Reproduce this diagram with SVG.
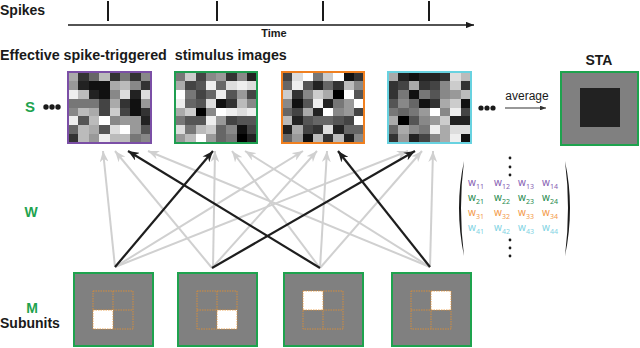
<svg xmlns="http://www.w3.org/2000/svg" width="640" height="348" viewBox="0 0 640 348">
<style>
.lbl{font-family:"Liberation Sans",Arial,sans-serif;font-weight:bold;fill:#1a1a1a}
.grn{fill:#1ea34e}
.mx{font-family:"Noto Sans","Liberation Sans",sans-serif;font-size:10px}
.mx tspan.s{font-size:7px}
.g{stroke:#d0d0d0;stroke-width:2;fill:none;marker-end:url(#ag)}
.k{stroke:#1e1e1e;stroke-width:2.2;fill:none;marker-end:url(#ak)}
.sub{fill:#808080;stroke:#1ea34e;stroke-width:2}
.grid{fill:none;stroke:#e8912c;stroke-width:0.8;stroke-dasharray:1.5 1}
.px{shape-rendering:crispEdges}
</style>
<defs>
<marker id="ag" viewBox="0 0 10 8" markerWidth="11" markerHeight="9" refX="10" refY="4" orient="auto" markerUnits="userSpaceOnUse"><path d="M0,0 L10,4 L0,8 L3,4 z" fill="#d0d0d0"/></marker>
<marker id="ak" viewBox="0 0 10 8" markerWidth="11" markerHeight="9" refX="10" refY="4" orient="auto" markerUnits="userSpaceOnUse"><path d="M0,0 L10,4 L0,8 L3,4 z" fill="#1e1e1e"/></marker>
<marker id="at" viewBox="0 0 10 8" markerWidth="8" markerHeight="6.4" refX="10" refY="4" orient="auto" markerUnits="userSpaceOnUse"><path d="M0,0 L10,4 L0,8 z" fill="#1a1a1a"/></marker>
<marker id="aa" viewBox="0 0 10 8" markerWidth="6" markerHeight="4.8" refX="10" refY="4" orient="auto" markerUnits="userSpaceOnUse"><path d="M0,0 L10,4 L0,8 z" fill="#333"/></marker>
</defs>
<rect width="640" height="348" fill="#fff"/>

<g id="timeline">
<text class="lbl" x="0" y="15" font-size="14">Spikes</text>
<g stroke="#1a1a1a" stroke-width="2">
<line x1="108" y1="1" x2="108" y2="21"/><line x1="217" y1="1" x2="217" y2="21"/><line x1="323" y1="1" x2="323" y2="21"/><line x1="429" y1="1" x2="429" y2="21"/>
</g>
<line x1="68" y1="25" x2="474" y2="25" stroke="#1a1a1a" stroke-width="1.3" marker-end="url(#at)"/>
<text class="lbl" x="274" y="37" font-size="11" text-anchor="middle">Time</text>
</g>

<text class="lbl" x="0" y="60" font-size="14.3" xml:space="preserve">Effective spike-triggered  stimulus images</text>

<g id="labels">
<text class="lbl grn" x="30" y="112" font-size="15" text-anchor="middle">S</text>
<g fill="#1a1a1a"><circle cx="46" cy="107" r="2.7"/><circle cx="52" cy="107" r="2.7"/><circle cx="58" cy="107" r="2.7"/></g>
<text class="lbl grn" x="31" y="217" font-size="14" text-anchor="middle">W</text>
<text class="lbl grn" x="32" y="313" font-size="14" text-anchor="middle">M</text>
<text class="lbl" x="0" y="328" font-size="14">Subunits</text>
</g>

<g id="connectors">
<line class="g" x1="115" y1="267" x2="103" y2="151"/>
<line class="g" x1="212" y1="268" x2="115" y2="151"/>
<line class="g" x1="430" y1="267" x2="148" y2="151"/>
<line class="g" x1="213" y1="268" x2="215" y2="151"/>
<line class="g" x1="320" y1="268" x2="232" y2="151"/>
<line class="g" x1="430" y1="267" x2="245" y2="151"/>
<line class="g" x1="115" y1="267" x2="303" y2="151"/>
<line class="g" x1="212" y1="268" x2="317" y2="151"/>
<line class="g" x1="320" y1="268" x2="327" y2="151"/>
<line class="g" x1="115" y1="267" x2="408" y2="151"/>
<line class="g" x1="320" y1="268" x2="422" y2="151"/>
<line class="g" x1="430" y1="267" x2="433" y2="151"/>
<line class="k" x1="320" y1="268" x2="128" y2="151"/>
<line class="k" x1="115" y1="267" x2="213" y2="151"/>
<line class="k" x1="430" y1="267" x2="338" y2="151"/>
<line class="k" x1="212" y1="268" x2="415" y2="151"/>
</g>

<g id="stim1">
<g class="px" transform="translate(68,72) scale(10.375,8.875)">
<rect x="0" y="0" width="1" height="1" fill="#aaa"/><rect x="1" y="0" width="1" height="1" fill="#333"/><rect x="2" y="0" width="1" height="1" fill="#666"/><rect x="3" y="0" width="1" height="1" fill="#bbb"/><rect x="4" y="0" width="1" height="1" fill="#333"/><rect x="5" y="0" width="1" height="1" fill="#777"/><rect x="6" y="0" width="1" height="1" fill="#333"/><rect x="7" y="0" width="1" height="1" fill="#888"/>
<rect x="0" y="1" width="1" height="1" fill="#999"/><rect x="1" y="1" width="1" height="1" fill="#222"/><rect x="2" y="1" width="1" height="1" fill="#111"/><rect x="3" y="1" width="1" height="1" fill="#111"/><rect x="4" y="1" width="1" height="1" fill="#aaa"/><rect x="5" y="1" width="1" height="1" fill="#bbb"/><rect x="6" y="1" width="1" height="1" fill="#888"/><rect x="7" y="1" width="1" height="1" fill="#333"/>
<rect x="0" y="2" width="1" height="1" fill="#eee"/><rect x="1" y="2" width="1" height="1" fill="#bbb"/><rect x="2" y="2" width="1" height="1" fill="#222"/><rect x="3" y="2" width="1" height="1" fill="#111"/><rect x="4" y="2" width="1" height="1" fill="#888"/><rect x="5" y="2" width="1" height="1" fill="#ddd"/><rect x="6" y="2" width="1" height="1" fill="#222"/><rect x="7" y="2" width="1" height="1" fill="#ddd"/>
<rect x="0" y="3" width="1" height="1" fill="#777"/><rect x="1" y="3" width="1" height="1" fill="#777"/><rect x="2" y="3" width="1" height="1" fill="#777"/><rect x="3" y="3" width="1" height="1" fill="#444"/><rect x="4" y="3" width="1" height="1" fill="#aaa"/><rect x="5" y="3" width="1" height="1" fill="#333"/><rect x="6" y="3" width="1" height="1" fill="#111"/><rect x="7" y="3" width="1" height="1" fill="#999"/>
<rect x="0" y="4" width="1" height="1" fill="#888"/><rect x="1" y="4" width="1" height="1" fill="#bbb"/><rect x="2" y="4" width="1" height="1" fill="#aaa"/><rect x="3" y="4" width="1" height="1" fill="#444"/><rect x="4" y="4" width="1" height="1" fill="#ccc"/><rect x="5" y="4" width="1" height="1" fill="#444"/><rect x="6" y="4" width="1" height="1" fill="#111"/><rect x="7" y="4" width="1" height="1" fill="#333"/>
<rect x="0" y="5" width="1" height="1" fill="#eee"/><rect x="1" y="5" width="1" height="1" fill="#555"/><rect x="2" y="5" width="1" height="1" fill="#bbb"/><rect x="3" y="5" width="1" height="1" fill="#fff"/><rect x="4" y="5" width="1" height="1" fill="#888"/><rect x="5" y="5" width="1" height="1" fill="#999"/><rect x="6" y="5" width="1" height="1" fill="#999"/><rect x="7" y="5" width="1" height="1" fill="#222"/>
<rect x="0" y="6" width="1" height="1" fill="#666"/><rect x="1" y="6" width="1" height="1" fill="#bbb"/><rect x="2" y="6" width="1" height="1" fill="#aaa"/><rect x="3" y="6" width="1" height="1" fill="#555"/><rect x="4" y="6" width="1" height="1" fill="#ddd"/><rect x="5" y="6" width="1" height="1" fill="#fff"/><rect x="6" y="6" width="1" height="1" fill="#999"/><rect x="7" y="6" width="1" height="1" fill="#555"/>
<rect x="0" y="7" width="1" height="1" fill="#333"/><rect x="1" y="7" width="1" height="1" fill="#bbb"/><rect x="2" y="7" width="1" height="1" fill="#999"/><rect x="3" y="7" width="1" height="1" fill="#eee"/><rect x="4" y="7" width="1" height="1" fill="#bbb"/><rect x="5" y="7" width="1" height="1" fill="#bbb"/><rect x="6" y="7" width="1" height="1" fill="#777"/><rect x="7" y="7" width="1" height="1" fill="#888"/>
</g>
<rect x="68" y="72" width="83" height="71" fill="none" stroke="#7b4fa6" stroke-width="2"/>
</g>

<g id="stim2">
<g class="px" transform="translate(175,72) scale(10.25,8.875)">
<rect x="0" y="0" width="1" height="1" fill="#777"/><rect x="1" y="0" width="1" height="1" fill="#ccc"/><rect x="2" y="0" width="1" height="1" fill="#444"/><rect x="3" y="0" width="1" height="1" fill="#888"/><rect x="4" y="0" width="1" height="1" fill="#999"/><rect x="5" y="0" width="1" height="1" fill="#333"/><rect x="6" y="0" width="1" height="1" fill="#888"/><rect x="7" y="0" width="1" height="1" fill="#222"/>
<rect x="0" y="1" width="1" height="1" fill="#aaa"/><rect x="1" y="1" width="1" height="1" fill="#444"/><rect x="2" y="1" width="1" height="1" fill="#555"/><rect x="3" y="1" width="1" height="1" fill="#eee"/><rect x="4" y="1" width="1" height="1" fill="#666"/><rect x="5" y="1" width="1" height="1" fill="#ddd"/><rect x="6" y="1" width="1" height="1" fill="#eee"/><rect x="7" y="1" width="1" height="1" fill="#ddd"/>
<rect x="0" y="2" width="1" height="1" fill="#fff"/><rect x="1" y="2" width="1" height="1" fill="#777"/><rect x="2" y="2" width="1" height="1" fill="#444"/><rect x="3" y="2" width="1" height="1" fill="#666"/><rect x="4" y="2" width="1" height="1" fill="#eee"/><rect x="5" y="2" width="1" height="1" fill="#555"/><rect x="6" y="2" width="1" height="1" fill="#999"/><rect x="7" y="2" width="1" height="1" fill="#444"/>
<rect x="0" y="3" width="1" height="1" fill="#eee"/><rect x="1" y="3" width="1" height="1" fill="#666"/><rect x="2" y="3" width="1" height="1" fill="#555"/><rect x="3" y="3" width="1" height="1" fill="#ddd"/><rect x="4" y="3" width="1" height="1" fill="#111"/><rect x="5" y="3" width="1" height="1" fill="#333"/><rect x="6" y="3" width="1" height="1" fill="#bbb"/><rect x="7" y="3" width="1" height="1" fill="#888"/>
<rect x="0" y="4" width="1" height="1" fill="#aaa"/><rect x="1" y="4" width="1" height="1" fill="#ccc"/><rect x="2" y="4" width="1" height="1" fill="#000"/><rect x="3" y="4" width="1" height="1" fill="#888"/><rect x="4" y="4" width="1" height="1" fill="#fff"/><rect x="5" y="4" width="1" height="1" fill="#eee"/><rect x="6" y="4" width="1" height="1" fill="#ddd"/><rect x="7" y="4" width="1" height="1" fill="#eee"/>
<rect x="0" y="5" width="1" height="1" fill="#777"/><rect x="1" y="5" width="1" height="1" fill="#555"/><rect x="2" y="5" width="1" height="1" fill="#555"/><rect x="3" y="5" width="1" height="1" fill="#eee"/><rect x="4" y="5" width="1" height="1" fill="#999"/><rect x="5" y="5" width="1" height="1" fill="#444"/><rect x="6" y="5" width="1" height="1" fill="#555"/><rect x="7" y="5" width="1" height="1" fill="#555"/>
<rect x="0" y="6" width="1" height="1" fill="#ddd"/><rect x="1" y="6" width="1" height="1" fill="#777"/><rect x="2" y="6" width="1" height="1" fill="#bbb"/><rect x="3" y="6" width="1" height="1" fill="#ccc"/><rect x="4" y="6" width="1" height="1" fill="#666"/><rect x="5" y="6" width="1" height="1" fill="#888"/><rect x="6" y="6" width="1" height="1" fill="#111"/><rect x="7" y="6" width="1" height="1" fill="#444"/>
<rect x="0" y="7" width="1" height="1" fill="#999"/><rect x="1" y="7" width="1" height="1" fill="#bbb"/><rect x="2" y="7" width="1" height="1" fill="#fff"/><rect x="3" y="7" width="1" height="1" fill="#999"/><rect x="4" y="7" width="1" height="1" fill="#666"/><rect x="5" y="7" width="1" height="1" fill="#777"/><rect x="6" y="7" width="1" height="1" fill="#000"/><rect x="7" y="7" width="1" height="1" fill="#222"/>
</g>
<rect x="175" y="72" width="82" height="71" fill="none" stroke="#1e9e50" stroke-width="2"/>
</g>

<g id="stim3">
<g class="px" transform="translate(282,72) scale(10.25,8.875)">
<rect x="0" y="0" width="1" height="1" fill="#444"/><rect x="1" y="0" width="1" height="1" fill="#ddd"/><rect x="2" y="0" width="1" height="1" fill="#fff"/><rect x="3" y="0" width="1" height="1" fill="#777"/><rect x="4" y="0" width="1" height="1" fill="#ccc"/><rect x="5" y="0" width="1" height="1" fill="#fff"/><rect x="6" y="0" width="1" height="1" fill="#111"/><rect x="7" y="0" width="1" height="1" fill="#333"/>
<rect x="0" y="1" width="1" height="1" fill="#666"/><rect x="1" y="1" width="1" height="1" fill="#eee"/><rect x="2" y="1" width="1" height="1" fill="#555"/><rect x="3" y="1" width="1" height="1" fill="#222"/><rect x="4" y="1" width="1" height="1" fill="#666"/><rect x="5" y="1" width="1" height="1" fill="#333"/><rect x="6" y="1" width="1" height="1" fill="#bbb"/><rect x="7" y="1" width="1" height="1" fill="#888"/>
<rect x="0" y="2" width="1" height="1" fill="#ccc"/><rect x="1" y="2" width="1" height="1" fill="#333"/><rect x="2" y="2" width="1" height="1" fill="#888"/><rect x="3" y="2" width="1" height="1" fill="#ccc"/><rect x="4" y="2" width="1" height="1" fill="#aaa"/><rect x="5" y="2" width="1" height="1" fill="#000"/><rect x="6" y="2" width="1" height="1" fill="#fff"/><rect x="7" y="2" width="1" height="1" fill="#555"/>
<rect x="0" y="3" width="1" height="1" fill="#888"/><rect x="1" y="3" width="1" height="1" fill="#111"/><rect x="2" y="3" width="1" height="1" fill="#555"/><rect x="3" y="3" width="1" height="1" fill="#eee"/><rect x="4" y="3" width="1" height="1" fill="#222"/><rect x="5" y="3" width="1" height="1" fill="#777"/><rect x="6" y="3" width="1" height="1" fill="#999"/><rect x="7" y="3" width="1" height="1" fill="#fff"/>
<rect x="0" y="4" width="1" height="1" fill="#666"/><rect x="1" y="4" width="1" height="1" fill="#444"/><rect x="2" y="4" width="1" height="1" fill="#aaa"/><rect x="3" y="4" width="1" height="1" fill="#222"/><rect x="4" y="4" width="1" height="1" fill="#fff"/><rect x="5" y="4" width="1" height="1" fill="#888"/><rect x="6" y="4" width="1" height="1" fill="#999"/><rect x="7" y="4" width="1" height="1" fill="#444"/>
<rect x="0" y="5" width="1" height="1" fill="#bbb"/><rect x="1" y="5" width="1" height="1" fill="#222"/><rect x="2" y="5" width="1" height="1" fill="#555"/><rect x="3" y="5" width="1" height="1" fill="#666"/><rect x="4" y="5" width="1" height="1" fill="#666"/><rect x="5" y="5" width="1" height="1" fill="#555"/><rect x="6" y="5" width="1" height="1" fill="#444"/><rect x="7" y="5" width="1" height="1" fill="#fff"/>
<rect x="0" y="6" width="1" height="1" fill="#222"/><rect x="1" y="6" width="1" height="1" fill="#aaa"/><rect x="2" y="6" width="1" height="1" fill="#444"/><rect x="3" y="6" width="1" height="1" fill="#333"/><rect x="4" y="6" width="1" height="1" fill="#ddd"/><rect x="5" y="6" width="1" height="1" fill="#222"/><rect x="6" y="6" width="1" height="1" fill="#666"/><rect x="7" y="6" width="1" height="1" fill="#666"/>
<rect x="0" y="7" width="1" height="1" fill="#666"/><rect x="1" y="7" width="1" height="1" fill="#999"/><rect x="2" y="7" width="1" height="1" fill="#111"/><rect x="3" y="7" width="1" height="1" fill="#bbb"/><rect x="4" y="7" width="1" height="1" fill="#333"/><rect x="5" y="7" width="1" height="1" fill="#bbb"/><rect x="6" y="7" width="1" height="1" fill="#222"/><rect x="7" y="7" width="1" height="1" fill="#888"/>
</g>
<rect x="282" y="72" width="82" height="71" fill="none" stroke="#f08020" stroke-width="2"/>
</g>

<g id="stim4">
<g class="px" transform="translate(388,72) scale(10.375,8.875)">
<rect x="0" y="0" width="1" height="1" fill="#aaa"/><rect x="1" y="0" width="1" height="1" fill="#222"/><rect x="2" y="0" width="1" height="1" fill="#111"/><rect x="3" y="0" width="1" height="1" fill="#222"/><rect x="4" y="0" width="1" height="1" fill="#222"/><rect x="5" y="0" width="1" height="1" fill="#333"/><rect x="6" y="0" width="1" height="1" fill="#ddd"/><rect x="7" y="0" width="1" height="1" fill="#bbb"/>
<rect x="0" y="1" width="1" height="1" fill="#333"/><rect x="1" y="1" width="1" height="1" fill="#444"/><rect x="2" y="1" width="1" height="1" fill="#aaa"/><rect x="3" y="1" width="1" height="1" fill="#333"/><rect x="4" y="1" width="1" height="1" fill="#444"/><rect x="5" y="1" width="1" height="1" fill="#888"/><rect x="6" y="1" width="1" height="1" fill="#ccc"/><rect x="7" y="1" width="1" height="1" fill="#333"/>
<rect x="0" y="2" width="1" height="1" fill="#333"/><rect x="1" y="2" width="1" height="1" fill="#777"/><rect x="2" y="2" width="1" height="1" fill="#111"/><rect x="3" y="2" width="1" height="1" fill="#777"/><rect x="4" y="2" width="1" height="1" fill="#555"/><rect x="5" y="2" width="1" height="1" fill="#888"/><rect x="6" y="2" width="1" height="1" fill="#999"/><rect x="7" y="2" width="1" height="1" fill="#bbb"/>
<rect x="0" y="3" width="1" height="1" fill="#555"/><rect x="1" y="3" width="1" height="1" fill="#888"/><rect x="2" y="3" width="1" height="1" fill="#666"/><rect x="3" y="3" width="1" height="1" fill="#111"/><rect x="4" y="3" width="1" height="1" fill="#333"/><rect x="5" y="3" width="1" height="1" fill="#aaa"/><rect x="6" y="3" width="1" height="1" fill="#ccc"/><rect x="7" y="3" width="1" height="1" fill="#111"/>
<rect x="0" y="4" width="1" height="1" fill="#777"/><rect x="1" y="4" width="1" height="1" fill="#666"/><rect x="2" y="4" width="1" height="1" fill="#777"/><rect x="3" y="4" width="1" height="1" fill="#999"/><rect x="4" y="4" width="1" height="1" fill="#fff"/><rect x="5" y="4" width="1" height="1" fill="#888"/><rect x="6" y="4" width="1" height="1" fill="#eee"/><rect x="7" y="4" width="1" height="1" fill="#444"/>
<rect x="0" y="5" width="1" height="1" fill="#aaa"/><rect x="1" y="5" width="1" height="1" fill="#000"/><rect x="2" y="5" width="1" height="1" fill="#555"/><rect x="3" y="5" width="1" height="1" fill="#888"/><rect x="4" y="5" width="1" height="1" fill="#999"/><rect x="5" y="5" width="1" height="1" fill="#ccc"/><rect x="6" y="5" width="1" height="1" fill="#222"/><rect x="7" y="5" width="1" height="1" fill="#222"/>
<rect x="0" y="6" width="1" height="1" fill="#666"/><rect x="1" y="6" width="1" height="1" fill="#aaa"/><rect x="2" y="6" width="1" height="1" fill="#888"/><rect x="3" y="6" width="1" height="1" fill="#777"/><rect x="4" y="6" width="1" height="1" fill="#eee"/><rect x="5" y="6" width="1" height="1" fill="#aaa"/><rect x="6" y="6" width="1" height="1" fill="#ddd"/><rect x="7" y="6" width="1" height="1" fill="#ddd"/>
<rect x="0" y="7" width="1" height="1" fill="#333"/><rect x="1" y="7" width="1" height="1" fill="#999"/><rect x="2" y="7" width="1" height="1" fill="#222"/><rect x="3" y="7" width="1" height="1" fill="#444"/><rect x="4" y="7" width="1" height="1" fill="#888"/><rect x="5" y="7" width="1" height="1" fill="#aaa"/><rect x="6" y="7" width="1" height="1" fill="#eee"/><rect x="7" y="7" width="1" height="1" fill="#111"/>
</g>
<rect x="388" y="72" width="83" height="71" fill="none" stroke="#68d2e0" stroke-width="2"/>
</g>

<g id="average">
<g fill="#1a1a1a"><circle cx="481" cy="108" r="2.6"/><circle cx="487" cy="108" r="2.6"/><circle cx="493" cy="108" r="2.6"/></g>
<text x="527" y="100" font-family="'Liberation Sans',Arial,sans-serif" font-size="12" fill="#1a1a1a" text-anchor="middle">average</text>
<line x1="505" y1="108" x2="546" y2="108" stroke="#333" stroke-width="1.2" marker-end="url(#aa)"/>
</g>

<g id="sta">
<text class="lbl" x="599" y="65" font-size="14" text-anchor="middle">STA</text>
<rect x="561" y="72" width="77" height="73" fill="#808080" stroke="#1ea34e" stroke-width="2"/>
<rect x="580" y="88" width="40" height="39" fill="#222"/>
</g>

<g id="matrix">
<path d="M464,161 Q454,208 464,256 Q458,208 464,161 Z" fill="#1a1a1a"/>
<path d="M565,161 Q575,208 565,256 Q571,208 565,161 Z" fill="#1a1a1a"/>
<g fill="#1a1a1a"><circle cx="510" cy="158" r="1.4"/><circle cx="510" cy="167" r="1.4"/><circle cx="510" cy="175" r="1.4"/><circle cx="510" cy="240" r="1.4"/><circle cx="510" cy="248" r="1.4"/><circle cx="510" cy="256" r="1.4"/></g>
<g class="mx" fill="#8660b3">
<text x="468" y="186">w<tspan class="s" dy="3">11</tspan></text><text x="494" y="186">w<tspan class="s" dy="3">12</tspan></text><text x="518" y="186">w<tspan class="s" dy="3">13</tspan></text><text x="542" y="186">w<tspan class="s" dy="3">14</tspan></text>
</g>
<g class="mx" fill="#1e8a4e">
<text x="468" y="201">w<tspan class="s" dy="3">21</tspan></text><text x="494" y="201">w<tspan class="s" dy="3">22</tspan></text><text x="518" y="201">w<tspan class="s" dy="3">23</tspan></text><text x="542" y="201">w<tspan class="s" dy="3">24</tspan></text>
</g>
<g class="mx" fill="#f39a48">
<text x="468" y="216">w<tspan class="s" dy="3">31</tspan></text><text x="494" y="216">w<tspan class="s" dy="3">32</tspan></text><text x="518" y="216">w<tspan class="s" dy="3">33</tspan></text><text x="542" y="216">w<tspan class="s" dy="3">34</tspan></text>
</g>
<g class="mx" fill="#7fd3e3">
<text x="468" y="231">w<tspan class="s" dy="3">41</tspan></text><text x="494" y="231">w<tspan class="s" dy="3">42</tspan></text><text x="518" y="231">w<tspan class="s" dy="3">43</tspan></text><text x="542" y="231">w<tspan class="s" dy="3">44</tspan></text>
</g>
</g>

<g id="sub1">
<rect class="sub" x="74" y="273" width="79" height="73"/>
<rect x="93" y="310" width="20" height="19" fill="#fff"/>
<path class="grid" d="M93,291 H133 V329 H93 Z M113,291 V329 M93,310 H133"/>
</g>
<g id="sub2">
<rect class="sub" x="178" y="273" width="79" height="73"/>
<rect x="217" y="310" width="20" height="19" fill="#fff"/>
<path class="grid" d="M197,291 H237 V329 H197 Z M217,291 V329 M197,310 H237"/>
</g>
<g id="sub3">
<rect class="sub" x="284" y="273" width="79" height="73"/>
<rect x="303" y="291" width="20" height="19" fill="#fff"/>
<path class="grid" d="M303,291 H343 V329 H303 Z M323,291 V329 M303,310 H343"/>
</g>
<g id="sub4">
<rect class="sub" x="392" y="273" width="79" height="73"/>
<rect x="431" y="291" width="20" height="19" fill="#fff"/>
<path class="grid" d="M411,291 H451 V329 H411 Z M431,291 V329 M411,310 H451"/>
</g>
</svg>
